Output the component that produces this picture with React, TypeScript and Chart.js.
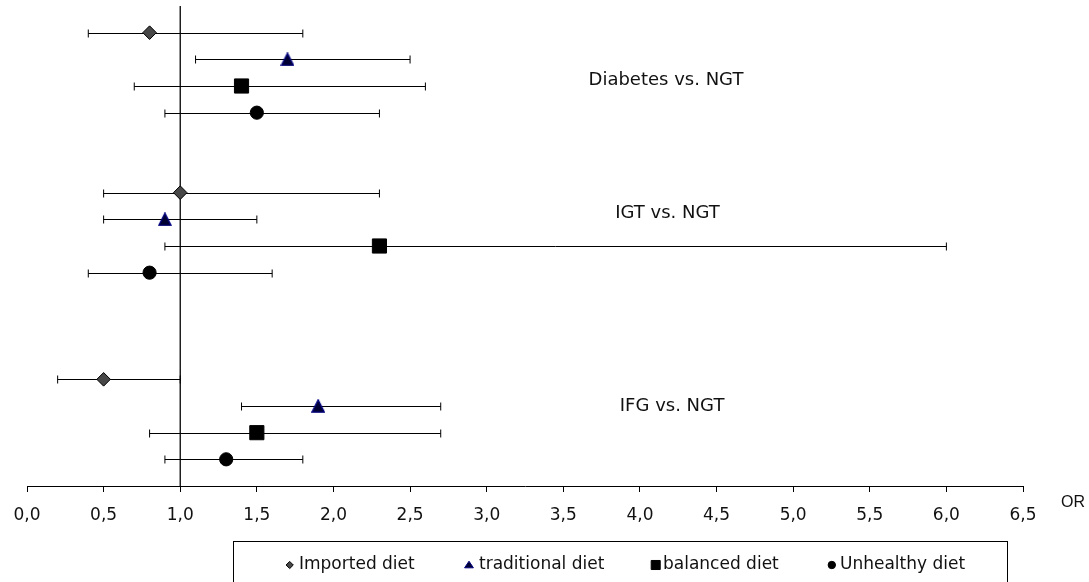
import React, { useEffect, useRef } from 'react';
import { Chart, registerables } from 'chart.js';

Chart.register(...registerables);

// ---- data ----
const groupLabels = ['Diabetes vs. NGT', 'IGT vs. NGT', 'IFG vs. NGT'];
const seriesNames = ['Imported diet', 'traditional diet', 'balanced diet', 'Unhealthy diet'];

// odds ratios per group: [Diabetes, IGT, IFG]
const importedOR = [0.8, 1.0, 0.5];
const importedLow = [0.4, 0.5, 0.2];
const importedHigh = [1.8, 2.3, 1.0];

const traditionalOR = [1.7, 0.9, 1.9];
const traditionalLow = [1.1, 0.5, 1.4];
const traditionalHigh = [2.5, 1.5, 2.7];

const balancedOR = [1.4, 2.3, 1.5];
const balancedLow = [0.7, 0.9, 0.8];
const balancedHigh = [2.6, 6.0, 2.7];

const unhealthyOR = [1.5, 0.8, 1.3];
const unhealthyLow = [0.9, 0.4, 0.9];
const unhealthyHigh = [2.3, 1.6, 1.8];

// row (category slot) of each series within the groups
const rowImported = [17, 11, 4];
const rowTraditional = [16, 10, 3];
const rowBalanced = [15, 9, 2];
const rowUnhealthy = [14, 8, 1];

const tickLabels = ['0,0', '0,5', '1,0', '1,5', '2,0', '2,5', '3,0', '3,5', '4,0', '4,5', '5,0', '5,5', '6,0', '6,5'];
const referenceOR = 1.0;
const axisTitle = 'OR';

// ---- styling / placement (not data) ----
const FONT = 'DejaVu Sans, Verdana, sans-serif';
const groupLabelPos = [
  { x: 4.17, y: 15.2 },
  { x: 4.18, y: 10.22 },
  { x: 4.21, y: 2.97 },
];
const legendMarkerX = [289.7, 469, 655.7, 831.8];
const legendTextX = [299, 479, 663, 840];

type Style = { shape: string; fill: string; stroke: string; radius: number; legendR: number };
const styles: Style[] = [
  { shape: 'rectRot', fill: '#474747', stroke: '#000000', radius: 6.8, legendR: 3.6 },
  { shape: 'triangle', fill: '#000033', stroke: '#000080', radius: 7.6, legendR: 5.6 },
  { shape: 'rect', fill: '#000000', stroke: '#000000', radius: 10, legendR: 6.4 },
  { shape: 'circle', fill: '#000000', stroke: '#000000', radius: 6.6, legendR: 3.7 },
];

const lows = [importedLow, traditionalLow, balancedLow, unhealthyLow];
const highs = [importedHigh, traditionalHigh, balancedHigh, unhealthyHigh];

function makeTriangleImage(size: number, fill: string, stroke: string) {
  const c = document.createElement('canvas');
  c.width = size;
  c.height = size;
  const g = c.getContext('2d')!;
  g.beginPath();
  g.moveTo(size / 2, 0.8);
  g.lineTo(size - 0.8, size - 0.8);
  g.lineTo(0.8, size - 0.8);
  g.closePath();
  g.fillStyle = fill;
  g.fill();
  g.strokeStyle = stroke;
  g.lineWidth = 1.3;
  g.stroke();
  return c;
}

function drawMarker(ctx: CanvasRenderingContext2D, shape: string, x: number, y: number, r: number) {
  ctx.beginPath();
  if (shape === 'rectRot') {
    ctx.moveTo(x - r, y);
    ctx.lineTo(x, y - r);
    ctx.lineTo(x + r, y);
    ctx.lineTo(x, y + r);
  } else if (shape === 'triangle') {
    ctx.moveTo(x, y - r * 0.5 - 1);
    ctx.lineTo(x + r * 0.52 + 1.5, y + r * 0.5);
    ctx.lineTo(x - r * 0.52 - 1.5, y + r * 0.5);
  } else if (shape === 'rect') {
    const s = r * 0.7071;
    ctx.rect(x - s, y - s, 2 * s, 2 * s);
  } else {
    ctx.arc(x, y, r, 0, Math.PI * 2);
  }
  ctx.closePath();
}

const errorBarPlugin = {
  id: 'errorBars',
  beforeDatasetsDraw(chart: any) {
    const { ctx, chartArea, scales } = chart;
    const xs = scales.x;
    const ys = scales.y;
    ctx.save();
    // reference line at OR = 1
    const rx = xs.getPixelForValue(referenceOR);
    ctx.strokeStyle = '#000';
    ctx.lineWidth = 1.3;
    ctx.beginPath();
    ctx.moveTo(rx, chartArea.top);
    ctx.lineTo(rx, chartArea.bottom);
    ctx.stroke();
    // error bars
    ctx.lineWidth = 1;
    chart.data.datasets.forEach((ds: any, i: number) => {
      ds.data.forEach((pt: any, j: number) => {
        const py = Math.round(ys.getPixelForValue(pt.y)) + 0.5;
        const x1 = xs.getPixelForValue(lows[i][j]);
        const x2 = xs.getPixelForValue(highs[i][j]);
        ctx.beginPath();
        ctx.moveTo(x1, py);
        ctx.lineTo(x2, py);
        ctx.moveTo(x1, py - 4);
        ctx.lineTo(x1, py + 4);
        ctx.moveTo(x2, py - 4);
        ctx.lineTo(x2, py + 4);
        ctx.stroke();
      });
    });
    ctx.restore();
  },
};

const annotationPlugin = {
  id: 'annotations',
  afterDraw(chart: any) {
    const { ctx, scales } = chart;
    const xs = scales.x;
    const ys = scales.y;
    ctx.save();
    // group labels
    ctx.fillStyle = '#111';
    ctx.font = `18px ${FONT}`;
    ctx.textAlign = 'center';
    ctx.textBaseline = 'middle';
    groupLabels.forEach((t, i) => {
      ctx.fillText(t, xs.getPixelForValue(groupLabelPos[i].x), ys.getPixelForValue(groupLabelPos[i].y));
    });
    // axis title
    ctx.font = `16px "Liberation Sans", Arial, sans-serif`;
    ctx.textAlign = 'left';
    ctx.fillText(axisTitle, 1061, 503);
    // legend box
    ctx.strokeStyle = '#000';
    ctx.lineWidth = 1;
    ctx.strokeRect(233.5, 541.5, 774, 80);
    ctx.font = `17px ${FONT}`;
    ctx.textAlign = 'left';
    ctx.textBaseline = 'middle';
    const ly = 565;
    seriesNames.forEach((name, i) => {
      const st = styles[i];
      drawMarker(ctx, st.shape, legendMarkerX[i], ly, st.legendR);
      ctx.fillStyle = st.fill;
      ctx.fill();
      ctx.strokeStyle = st.stroke;
      ctx.lineWidth = 1;
      ctx.stroke();
      ctx.fillStyle = '#111';
      ctx.fillText(name, legendTextX[i], ly);
    });
    ctx.restore();
  },
};

export default function App() {
  const ref = useRef<HTMLCanvasElement>(null);
  useEffect(() => {
    const canvas = ref.current;
    if (!canvas) return;
    const pts = (xv: number[], yv: number[]) => xv.map((v, i) => ({ x: v, y: yv[i] }));
    const ors = [importedOR, traditionalOR, balancedOR, unhealthyOR];
    const rows = [rowImported, rowTraditional, rowBalanced, rowUnhealthy];
    const triImg = makeTriangleImage(14, styles[1].fill, styles[1].stroke);
    const chart = new Chart(canvas, {
      type: 'scatter',
      data: {
        datasets: seriesNames.map((name, i) => ({
          label: name,
          data: pts(ors[i], rows[i]),
          pointStyle: (i === 1 ? triImg : styles[i].shape) as any,
          pointRadius: styles[i].radius,
          backgroundColor: styles[i].fill,
          borderColor: styles[i].stroke,
          borderWidth: 1,
          showLine: false,
        })),
      },
      options: {
        responsive: false,
        animation: false,
        events: [],
        layout: { autoPadding: false, padding: { left: 27, right: 66, top: 6, bottom: 0 } },
        plugins: {
          legend: { display: false },
          tooltip: { enabled: false },
        },
        scales: {
          x: {
            type: 'linear',
            min: 0,
            max: 6.5,
            afterFit: (scale: any) => {
              scale.height = 96;
            },
            ticks: {
              stepSize: 0.5,
              autoSkip: false,
              maxRotation: 0,
              padding: 13,
              color: '#111',
              font: { family: FONT, size: 17 },
              callback: (_v: any, idx: number) => tickLabels[idx],
            },
            grid: {
              display: true,
              drawOnChartArea: false,
              drawTicks: true,
              tickLength: 6,
              color: '#000',
              lineWidth: 1,
            },
            border: { display: true, color: '#000', width: 1 },
          },
          y: {
            type: 'linear',
            min: 0,
            max: 18,
            display: false,
          },
        },
      },
      plugins: [errorBarPlugin, annotationPlugin],
    });
    return () => chart.destroy();
  }, []);
  return (
    <div style={{ position: 'absolute', left: 0, top: 0, width: 1089, height: 582, background: '#fff' }}>
      <canvas ref={ref} width={1089} height={582} style={{ display: 'block' }} />
    </div>
  );
}
